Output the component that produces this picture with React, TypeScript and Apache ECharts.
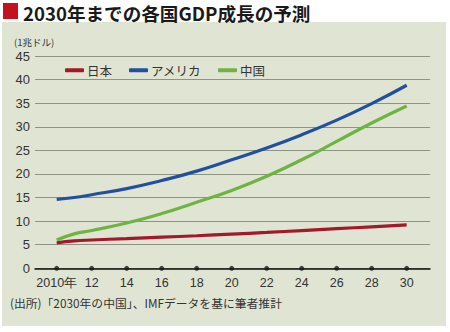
import React, { useEffect, useRef } from "react";
import * as echarts from "echarts";

const years = [2010, 2011, 2012, 2014, 2016, 2018, 2020, 2022, 2024, 2026, 2028, 2030];
const japan = [5.4, 5.8, 6.0, 6.3, 6.6, 6.9, 7.25, 7.6, 8.0, 8.4, 8.8, 9.2];
const usa = [14.6, 15.0, 15.6, 16.9, 18.6, 20.6, 23.0, 25.5, 28.3, 31.4, 34.9, 38.8];
const china = [6.0, 7.3, 8.0, 9.6, 11.6, 14.0, 16.5, 19.5, 23.0, 26.9, 30.8, 34.4];
const tickYears = [2010, 2012, 2014, 2016, 2018, 2020, 2022, 2024, 2026, 2028, 2030];
const seriesNames = ["日本", "アメリカ", "中国"];
const title = "2030年までの各国GDP成長の予測";
const unitLabel = "(1兆ドル)";
const source = "(出所)「2030年の中国」、IMFデータを基に筆者推計";

const JP = '"Noto Sans CJK JP", "Liberation Sans", sans-serif';
const LAT = '"Liberation Sans", Arial, sans-serif';

export default function App() {
  const ref = useRef<HTMLDivElement>(null);
  useEffect(() => {
    const chart = echarts.init(ref.current!, null, { renderer: "svg" });
    const pair = (arr: number[]) => years.map((y, i) => [y, arr[i]]);
    const top = 56;
    const height = 212.3;
    chart.setOption({
      animation: false,
      backgroundColor: "#ffffff",
      graphic: [
        { type: "rect", z: -100, shape: { x: 2, y: 22, width: 444, height: 304 }, style: { fill: "#dfe5d2" } },
        { type: "rect", shape: { x: 3, y: 3, width: 15, height: 16 }, style: { fill: "#c0121f" } },
        { type: "text", x: 23, y: 12.5, style: { text: title, font: `bold 18.6px ${JP}`, fill: "#1a1a1a", textVerticalAlign: "middle" } },
        { type: "text", x: 14, y: 42, style: { text: unitLabel, font: `9.5px ${JP}`, fill: "#333", textVerticalAlign: "middle" } },
        { type: "text", x: 10, y: 302, style: { text: source, font: `11.8px ${JP}`, fill: "#333", textVerticalAlign: "middle" } },
      ],
      legend: {
        left: 60,
        top: 59,
        icon: "roundRect",
        itemWidth: 19,
        itemHeight: 4,
        itemGap: 17,
        data: seriesNames,
        textStyle: { fontFamily: JP, fontSize: 12.5, color: "#333", padding: [0, 0, 0, -2] },
      },
      grid: [
        { left: 35, right: 20, top, height },
        { left: 56.7, width: 350, top, height },
      ],
      xAxis: [
        { gridIndex: 0, type: "value", min: 0, max: 1, show: true, axisLabel: { show: false }, axisTick: { show: false }, splitLine: { show: false }, axisLine: { lineStyle: { color: "#111", width: 1.5 } } },
        {
          gridIndex: 1, type: "value", min: 2010, max: 2030, interval: 2,
          axisLine: { show: false }, axisTick: { show: false }, splitLine: { show: false },
          axisLabel: {
            margin: 8, fontFamily: LAT, fontSize: 12.5, color: "#333",
            formatter: (v: number) => (v === 2010 ? "2010年" : String(v).slice(2)),
          },
        },
      ],
      yAxis: [
        {
          gridIndex: 0, type: "value", min: 0, max: 45, interval: 5,
          axisLine: { show: false }, axisTick: { show: false },
          axisLabel: { margin: 5, fontFamily: LAT, fontSize: 13, color: "#333" },
          splitLine: { lineStyle: { color: "#8c9484", width: 1 } },
        },
        { gridIndex: 1, type: "value", min: 0, max: 45, show: false, splitLine: { show: false } },
      ],
      series: [
        { name: seriesNames[0], type: "line", xAxisIndex: 1, yAxisIndex: 1, data: pair(japan), smooth: 0.5, showSymbol: false, color: "#a3182b", lineStyle: { width: 3.2 }, z: 3 },
        { name: seriesNames[1], type: "line", xAxisIndex: 1, yAxisIndex: 1, data: pair(usa), smooth: 0.5, showSymbol: false, color: "#22509e", lineStyle: { width: 3.2 }, z: 3 },
        { name: seriesNames[2], type: "line", xAxisIndex: 1, yAxisIndex: 1, data: pair(china), smooth: 0.5, showSymbol: false, color: "#6fb443", lineStyle: { width: 3.2 }, z: 4 },
        { type: "scatter", xAxisIndex: 1, yAxisIndex: 1, data: tickYears.map((y) => [y, 0]), symbolSize: 5, itemStyle: { color: "#1a1a1a" }, silent: true, z: 5 },
      ],
    });
    return () => chart.dispose();
  }, []);
  return <div ref={ref} style={{ position: "absolute", left: 0, top: 0, width: 450, height: 332 }} />;
}
